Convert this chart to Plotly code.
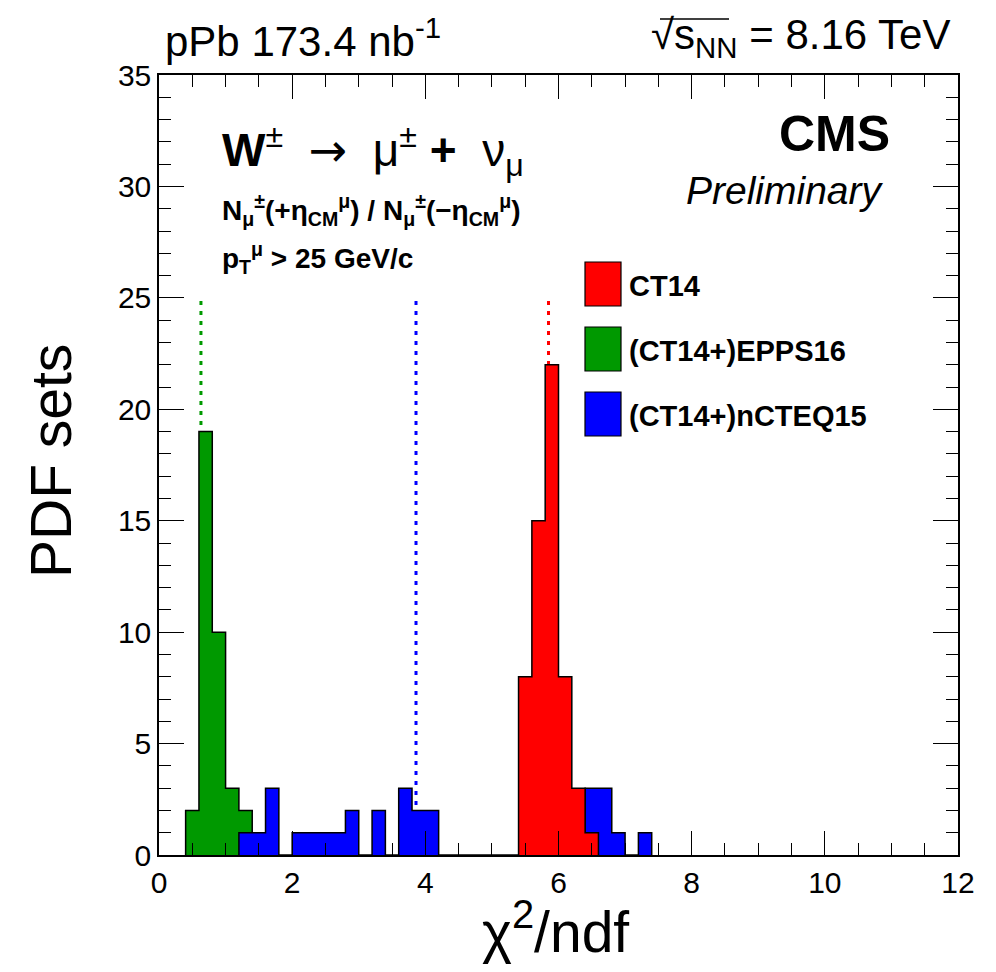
import plotly.graph_objects as go

# chi2/ndf histograms, bin width 0.2 (lower bin edges + entries)
bin_width = 0.2

ct14_lo = [5.4, 5.6, 5.8, 6.0, 6.2, 6.4]
ct14_n = [8, 15, 22, 8, 3, 1]

epps16_lo = [0.4, 0.6, 0.8, 1.0, 1.2]
epps16_n = [2, 19, 10, 3, 2]

ncteq15_lo = [1.2, 1.4, 1.6, 1.8, 2.0, 2.2, 2.4, 2.6, 2.8, 3.0, 3.2, 3.4, 3.6, 3.8, 4.0,
              6.4, 6.6, 6.8, 7.0, 7.2]
ncteq15_n = [1, 1, 3, 0, 1, 1, 1, 1, 2, 0, 2, 0, 3, 2, 2,
             3, 3, 1, 0, 1]

# dotted reference lines (central value per set)
line_x = {"CT14": 5.85, "EPPS16": 0.63, "nCTEQ15": 3.86}
line_top = 25

names = ["CT14", "(CT14+)EPPS16", "(CT14+)nCTEQ15"]
colors = {"CT14": "#ff0000", "EPPS16": "#009900", "nCTEQ15": "#0000ff"}

FONT = "Liberation Sans"

# plot frame in page pixels; the page body has an 8px margin
PAGE_OFF = 8
X0, X1, Y0, Y1 = 159, 958, 75, 855
W, H = 996 - 16, 972 - 16


def px(x):
    return (x - X0) / (X1 - X0)


def py(y):
    return (Y1 - y) / (Y1 - Y0)


def step_path(lows, counts):
    xs, ys = [], []
    prev_hi = None
    for lo, n in zip(lows, counts):
        if prev_hi is None or abs(lo - prev_hi) > 1e-6:
            if prev_hi is not None:
                xs.append(prev_hi)
                ys.append(0)
            xs.append(lo)
            ys.append(0)
        xs.append(lo)
        ys.append(n)
        prev_hi = lo + bin_width
    xs.append(prev_hi)
    ys.append(0)
    return xs, ys


fig = go.Figure()

for key in ["EPPS16", "nCTEQ15", "CT14"]:
    fig.add_trace(go.Scatter(x=[line_x[key], line_x[key]], y=[0, line_top], mode="lines",
                             line=dict(color=colors[key], width=3, dash="4px,6px"),
                             showlegend=False, hoverinfo="skip"))

for key, lows, counts in [("EPPS16", epps16_lo, epps16_n),
                          ("nCTEQ15", ncteq15_lo, ncteq15_n),
                          ("CT14", ct14_lo, ct14_n)]:
    xs, ys = step_path(lows, counts)
    fig.add_trace(go.Scatter(x=xs, y=ys, mode="lines", line_shape="hv",
                             line=dict(color="black", width=1.5),
                             fill="tozeroy", fillcolor=colors[key],
                             showlegend=False))

axis_common = dict(showgrid=False, zeroline=False, showline=True, linecolor="black",
                   linewidth=1.5, mirror="ticks", ticks="inside", tickcolor="black",
                   tickwidth=1.2, tickfont=dict(family=FONT, size=30, color="black"))

fig.update_xaxes(range=[0, 12], dtick=2, ticklen=24, ticklabelstandoff=0,
                 minor=dict(dtick=0.5, ticklen=12, ticks="inside", tickcolor="black",
                            tickwidth=1.2, showgrid=False),
                 **axis_common)
fig.update_yaxes(range=[0, 35], dtick=5, ticklen=25, ticklabelstandoff=0,
                 minor=dict(dtick=1, ticklen=12, ticks="inside", tickcolor="black",
                            tickwidth=1.2, showgrid=False),
                 **axis_common)

ann = []


def text(s, x, y, size, xanchor="left", yanchor="middle", **kw):
    ann.append(dict(text=s, x=px(x), y=py(y), xref="paper", yref="paper",
                    xanchor=xanchor, yanchor=yanchor, showarrow=False,
                    font=dict(family=FONT, size=size, color="black"), **kw))


text("pPb 173.4 nb<sup>-1</sup>", 163, 38, 42)
text("√s<sub>NN</sub> = 8.16 TeV", 952, 38, 42, xanchor="right")
text("<b>CMS</b>", 892, 134, 50, xanchor="right")
text("<i>Preliminary</i>", 886, 190, 39, xanchor="right")
text("<b>W</b><sup>±</sup>  <span style=\"font-family:'DejaVu Sans'\">→</span>  μ<sup>±</sup> <b>+</b>  ν<sub>μ</sub>",
     220, 150, 46)
text("<b>N<sub>μ</sub><sup>±</sup>(+η<sub>CM</sub><sup>μ</sup>) / N<sub>μ</sub><sup>±</sup>(−η<sub>CM</sub><sup>μ</sup>)</b>",
     220, 210, 28)
text("<b>p<sub>T</sub><sup>μ</sup> > 25 GeV/c</b>", 220, 258, 28)

# axis titles
text("PDF sets", 51, 461, 57, xanchor="center", textangle=-90)
text("χ<sup>2</sup>/ndf", 555, 928, 57, xanchor="center")

# legend
shapes = []
legend_y = [284, 349, 414]
for name, key, yc in zip(names, ["CT14", "EPPS16", "nCTEQ15"], legend_y):
    shapes.append(dict(type="rect", xref="paper", yref="paper",
                       x0=px(585), x1=px(621), y0=py(yc - 22), y1=py(yc + 22),
                       fillcolor=colors[key], line=dict(color="black", width=1.2)))
    text(f"<b>{name}</b>", 627, yc + 2, 29)

# overline of the square root
shapes.append(dict(type="line", xref="paper", yref="paper",
                   x0=px(660), x1=px(729), y0=py(19), y1=py(19),
                   line=dict(color="black", width=1.5)))

fig.update_layout(width=W, height=H,
                  margin=dict(l=X0 - PAGE_OFF, r=W + PAGE_OFF - X1,
                              t=Y0 - PAGE_OFF, b=H + PAGE_OFF - Y1),
                  plot_bgcolor="white", paper_bgcolor="white",
                  annotations=ann, shapes=shapes, showlegend=False)

fig.write_html("out.html")
